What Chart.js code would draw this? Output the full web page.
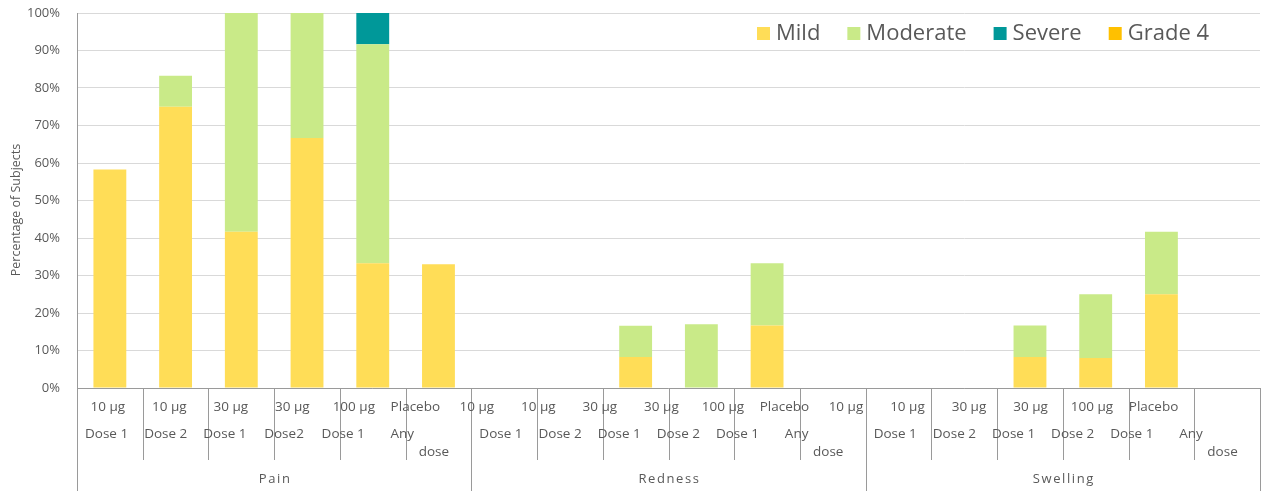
<!DOCTYPE html>
<html>
<head>
<meta charset="utf-8">
<script src="https://cdn.jsdelivr.net/npm/chart.js@4.4.1/dist/chart.umd.min.js"></script>
<style>
  html, body { margin: 0; padding: 0; background: #ffffff; }
  canvas { display: block; }
</style>
</head>
<body>
<canvas id="chart" width="1263" height="491"></canvas>
<script>
// Reaction groups along the x axis (six columns each)
const groups = ['Pain', 'Redness', 'Swelling'];

// Column labels: dose level, dose number, optional continuation line
const categories = [
  ['10 µg', 'Dose 1'], ['10 µg', 'Dose 2'], ['30 µg', 'Dose 1'], ['30 µg', 'Dose2'], ['100 µg', 'Dose 1'], ['Placebo', 'Any', 'dose'],
  ['10 µg', 'Dose 1'], ['10 µg', 'Dose 2'], ['30 µg', 'Dose 1'], ['30 µg', 'Dose 2'], ['100 µg', 'Dose 1'], ['Placebo', 'Any', 'dose'],
  ['10 µg', 'Dose 1'], ['10 µg', 'Dose 2'], ['30 µg', 'Dose 1'], ['30 µg', 'Dose 2'], ['100 µg', 'Dose 1'], ['Placebo', 'Any', 'dose']
];

// Percentage of subjects per severity grade
const mild     = [58.3, 75, 41.7, 66.7, 33.3, 33,   0, 0, 8.3, 0, 16.7, 0,   0, 0, 8.3, 8, 25, 0];
const moderate = [0, 8.3, 58.3, 33.3, 58.4, 0,      0, 0, 8.3, 17, 16.6, 0,  0, 0, 8.4, 17, 16.7, 0];
const severe   = [0, 0, 0, 0, 8.3, 0,               0, 0, 0, 0, 0, 0,        0, 0, 0, 0, 0, 0];
const grade4   = [0, 0, 0, 0, 0, 0,                 0, 0, 0, 0, 0, 0,        0, 0, 0, 0, 0, 0];

// Y axis ticks (percent)
const yTicks = [0, 10, 20, 30, 40, 50, 60, 70, 80, 90, 100];
const yTitle = 'Percentage of Subjects';

const FONT = "'Open Sans', 'Noto Sans', sans-serif";
const TEXT = '#595959';
const AXIS = '#9a9a9a';

// Draws the multi-row category axis, the y title and the legend
const decorations = {
  id: 'decorations',
  afterDraw(chart) {
    const { ctx, chartArea: a, scales: { x } } = chart;
    const n = categories.length;
    const perGroup = n / groups.length;
    const catW = x.getPixelForValue(1) - x.getPixelForValue(0);
    const edge = i => x.getPixelForValue(i) - catW / 2;
    const groupW = catW * perGroup;

    ctx.save();
    // baseline and separators
    ctx.strokeStyle = AXIS;
    ctx.lineWidth = 1;
    ctx.beginPath();
    ctx.moveTo(a.left, Math.round(a.bottom) + 0.5);
    ctx.lineTo(a.right, Math.round(a.bottom) + 0.5);
    for (let i = 0; i <= n; i++) {
      const px = Math.round(i < n ? edge(i) : a.right) + 0.5;
      ctx.moveTo(px, a.bottom);
      ctx.lineTo(px, i % perGroup === 0 ? chart.height : a.bottom + 72);
    }
    ctx.stroke();

    ctx.fillStyle = TEXT;
    ctx.textAlign = 'center';
    ctx.textBaseline = 'middle';
    ctx.font = '13.5px ' + FONT;

    // first row: dose level
    const row1Step = catW * 0.936;
    categories.forEach((c, i) => {
      ctx.fillText(c[0], a.left + (i + 0.5) * row1Step, a.bottom + 19);
    });
    // second and third rows: dose number
    categories.forEach((c, i) => {
      const g = Math.floor(i / perGroup);
      const j = i % perGroup;
      const gl = edge(g * perGroup);
      ctx.fillText(c[1], gl + (j + 0.5) * groupW * 0.15, a.bottom + 46);
      if (c[2]) ctx.fillText(c[2], gl + groupW * 0.905, a.bottom + 64);
    });
    // group names
    ctx.font = '13px ' + FONT;
    ctx.letterSpacing = '1.6px';
    groups.forEach((g, k) => {
      const gl = edge(k * perGroup);
      ctx.fillText(g, gl + groupW / 2 + 1, a.bottom + 91);
    });
    ctx.letterSpacing = '0px';

    // y axis title
    ctx.save();
    ctx.translate(16, 210);
    ctx.rotate(-Math.PI / 2);
    ctx.font = '12.5px ' + FONT;
    ctx.fillText(yTitle, 0, 0);
    ctx.restore();

    // legend
    ctx.font = '22px ' + FONT;
    ctx.textAlign = 'left';
    let lx = 757;
    const ly = 33;
    chart.data.datasets.forEach(ds => {
      ctx.fillStyle = ds.backgroundColor;
      ctx.fillRect(lx, ly - 6, 13, 13);
      ctx.fillStyle = TEXT;
      ctx.fillText(ds.label, lx + 19, ly + 1);
      lx += 19 + ctx.measureText(ds.label).width + 27;
    });
    ctx.restore();
  }
};

new Chart(document.getElementById('chart'), {
  type: 'bar',
  data: {
    labels: categories,
    datasets: [
      { label: 'Mild', data: mild, backgroundColor: '#FFDD57' },
      { label: 'Moderate', data: moderate, backgroundColor: '#C9EA88' },
      { label: 'Severe', data: severe, backgroundColor: '#009899' },
      { label: 'Grade 4', data: grade4, backgroundColor: '#FFC000' }
    ]
  },
  options: {
    responsive: false,
    animation: false,
    layout: { padding: { left: 0, right: 3, top: 13, bottom: 103 } },
    datasets: { bar: { barPercentage: 0.5, categoryPercentage: 1, borderWidth: 0 } },
    plugins: { legend: { display: false }, tooltip: { enabled: false } },
    scales: {
      x: { stacked: true, display: false },
      y: {
        stacked: true,
        min: 0,
        max: 100,
        afterFit(scale) {
          scale.width = 77;
          scale.paddingTop = 0;
          scale.paddingBottom = 0;
        },
        afterBuildTicks(scale) { scale.ticks = yTicks.map(v => ({ value: v })); },
        ticks: {
          padding: 17,
          color: TEXT,
          font: { family: FONT, size: 13 },
          callback: v => v + '%'
        },
        grid: { color: '#D9D9D9', lineWidth: 1, drawTicks: false },
        border: { display: true, color: AXIS }
      }
    }
  },
  plugins: [decorations]
});
</script>
</body>
</html>
